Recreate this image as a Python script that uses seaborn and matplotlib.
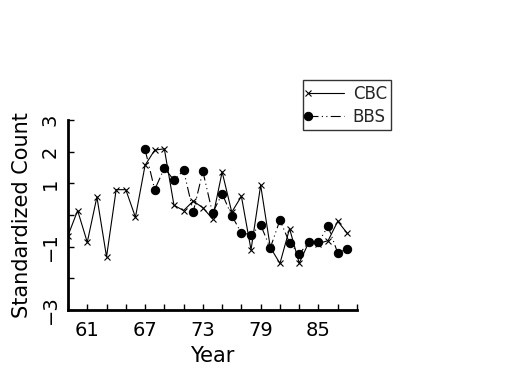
import matplotlib
matplotlib.use("Agg")
import matplotlib.pyplot as plt
import seaborn as sns
import pandas as pd
import numpy as np

cbc_years = list(range(1959, 1989))
cbc_values = [-0.65, 0.14, -0.86, 0.57, -1.32, 0.80, 0.80, -0.07, 1.57, 2.05,
              2.09, 0.31, 0.14, 0.44, 0.23, -0.12, 1.36, 0.09, 0.59, -1.10,
              0.94, -1.02, -1.53, -0.43, -1.52, -0.86, -0.90, -0.81, -0.20, -0.58]
bbs_years = list(range(1967, 1989))
bbs_values = [2.07, 0.80, 1.48, 1.10, 1.41, 0.10, 1.38, 0.06, 0.67, -0.02,
              -0.57, -0.62, -0.32, -1.04, -0.16, -0.88, -1.23, -0.86, -0.85,
              -0.36, -1.20, -1.06]
x_ticks = list(range(1959, 1990, 2))
x_labels = {1961: "61", 1967: "67", 1973: "73", 1979: "79", 1985: "85"}
y_ticks = [-3, -2, -1, 0, 1, 2, 3]
y_labels = {3: "3", 2: "2", 1: "1", -1: "\u22121", -3: "\u22123"}

sns.set_theme(style="white")
plt.rcParams['font.family'] = ['DejaVu Sans']

cbc_df = pd.DataFrame({"Year": cbc_years, "Count": cbc_values})
bbs_df = pd.DataFrame({"Year": bbs_years, "Count": bbs_values})

fig = plt.figure(figsize=(5.25, 3.75), dpi=100)
ax = fig.add_axes([68/525, 1-310/375, (357-68)/525, (310-120)/375])

sns.lineplot(data=cbc_df, x="Year", y="Count", ax=ax, color="black",
             linewidth=0.8, marker="x", markersize=4.5, markeredgewidth=0.8,
             markeredgecolor="black", label="CBC")
sns.lineplot(data=bbs_df, x="Year", y="Count", ax=ax, color="black",
             linewidth=0.8, marker="o", markersize=6, markeredgecolor="black",
             dashes=False, label="BBS")
ax.lines[1].set_linestyle((0, (9, 3, 1, 3, 1, 3)))

ax.set_xlim(1959, 1989)
ax.set_ylim(-3, 3)
ax.set_xticks(x_ticks)
ax.set_xticklabels([x_labels.get(t, "") for t in x_ticks], fontsize=14)
ax.set_yticks(y_ticks)
ax.set_yticklabels([y_labels.get(t, "") for t in y_ticks], fontsize=14,
                   rotation=90, va="center")
ax.tick_params(bottom=True, left=True, direction="in", length=4, width=1,
               color="black", labelcolor="black", pad=6)
ax.tick_params(axis="x", pad=8)
for s in ["top", "right"]:
    ax.spines[s].set_visible(False)
for s in ["left", "bottom"]:
    ax.spines[s].set_color("black")
    ax.spines[s].set_linewidth(2)
ax.set_xlabel("Year", fontsize=15, color="black", labelpad=4)
ax.set_ylabel("Standardized Count", fontsize=15, color="black", labelpad=6)

leg = ax.legend(loc="upper left", bbox_to_anchor=(303/525, 1-80/375),
                bbox_transform=fig.transFigure, frameon=True, fancybox=False,
                edgecolor="black", fontsize=12, handlelength=2.2,
                handletextpad=0.5, borderpad=0.28, labelspacing=0.3,
                borderaxespad=0)
leg.get_frame().set_linewidth(1)
for h in leg.get_lines():
    h.set_markevery([0])

fig.savefig("out.png", dpi=100, facecolor="white")
